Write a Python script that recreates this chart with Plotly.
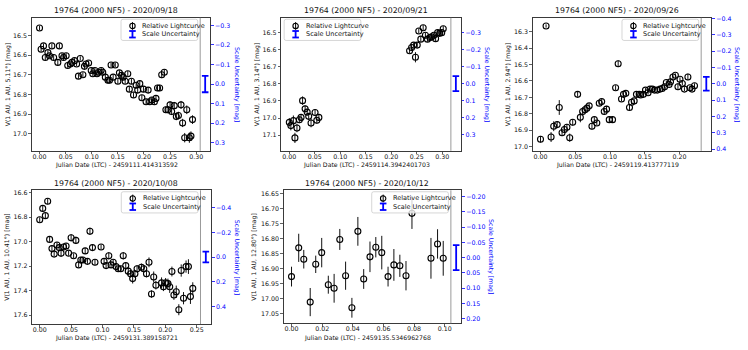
import plotly.graph_objects as go

W, H = 748, 350

# ---------------- data ----------------
p1_x = [0.000, 0.003, 0.0076, 0.011, 0.016, 0.019, 0.0236, 0.027, 0.035, 0.038,
        0.043, 0.046, 0.051, 0.054, 0.059, 0.062, 0.067, 0.071, 0.0745, 0.078,
        0.083, 0.086, 0.089, 0.094, 0.099, 0.102, 0.106, 0.110, 0.113, 0.118,
        0.121, 0.126, 0.131, 0.134, 0.137, 0.141, 0.145, 0.150, 0.153, 0.157,
        0.160, 0.164, 0.169, 0.172, 0.176, 0.180, 0.185, 0.188, 0.192, 0.196,
        0.199, 0.204, 0.208, 0.211, 0.215, 0.220, 0.223, 0.226, 0.230, 0.234,
        0.239, 0.242, 0.246, 0.250, 0.253, 0.258, 0.262, 0.266, 0.271, 0.274,
        0.278, 0.282, 0.287, 0.290, 0.293]
p1_y = [16.462, 16.570, 16.553, 16.612, 16.587, 16.603, 16.553, 16.612, 16.637, 16.553,
        16.603, 16.612, 16.603, 16.653, 16.645, 16.637, 16.628, 16.645, 16.707, 16.617,
        16.700, 16.657, 16.645, 16.640, 16.678, 16.695, 16.678, 16.695, 16.687, 16.678,
        16.687, 16.712, 16.728, 16.728, 16.650, 16.712, 16.650, 16.733, 16.690, 16.703,
        16.712, 16.733, 16.695, 16.773, 16.733, 16.803, 16.753, 16.778, 16.745, 16.817,
        16.773, 16.837, 16.778, 16.837, 16.828, 16.837, 16.820, 16.767, 16.767, 16.700,
        16.687, 16.878, 16.878, 16.853, 16.887, 16.857, 16.912, 16.907, 16.853, 16.945,
        17.020, 16.878, 17.020, 17.012, 16.928]
p1_err = [0.012, 0.013, 0.012, 0.013, 0.012, 0.012, 0.011, 0.013, 0.014, 0.012,
          0.013, 0.014, 0.013, 0.012, 0.012, 0.013, 0.012, 0.012, 0.013, 0.011,
          0.013, 0.013, 0.012, 0.012, 0.013, 0.013, 0.012, 0.014, 0.013, 0.013,
          0.013, 0.014, 0.013, 0.013, 0.012, 0.013, 0.012, 0.014, 0.013, 0.013,
          0.014, 0.013, 0.014, 0.014, 0.014, 0.014, 0.014, 0.015, 0.014, 0.015,
          0.015, 0.015, 0.015, 0.016, 0.015, 0.016, 0.016, 0.016, 0.016, 0.017,
          0.016, 0.017, 0.018, 0.018, 0.018, 0.019, 0.019, 0.019, 0.020, 0.021,
          0.024, 0.022, 0.026, 0.024, 0.022]

p2_x = [0.000, 0.003, 0.008, 0.011, 0.015, 0.0197, 0.023, 0.026, 0.031, 0.035,
        0.038, 0.0426, 0.0505, 0.054, 0.058,
        0.236, 0.240, 0.244, 0.2475, 0.251, 0.254, 0.258, 0.2626, 0.267, 0.271,
        0.276, 0.279, 0.2836, 0.287, 0.291, 0.295, 0.299, 0.302]
p2_y = [17.025, 17.044, 17.015, 17.116, 17.058, 17.010, 16.996, 16.898, 16.946, 16.965,
        16.990, 17.029, 16.967, 17.013, 16.996,
        16.606, 16.587, 16.573, 16.644, 16.573, 16.490, 16.538, 16.471, 16.515, 16.538,
        16.529, 16.525, 16.515, 16.535, 16.500, 16.504, 16.500, 16.477]
p2_err = [0.025, 0.028, 0.030, 0.030, 0.025, 0.020, 0.020, 0.025, 0.020, 0.020,
          0.020, 0.025, 0.020, 0.020, 0.020,
          0.015, 0.015, 0.015, 0.030, 0.015, 0.015, 0.015, 0.015, 0.015, 0.015,
          0.015, 0.015, 0.015, 0.015, 0.015, 0.015, 0.015, 0.015]

p3_x = [0.000, 0.008, 0.0152, 0.019, 0.024, 0.027, 0.031, 0.0344, 0.038, 0.042,
        0.0463, 0.0534, 0.0573, 0.0606, 0.064, 0.0668, 0.070, 0.074, 0.0774, 0.081,
        0.0845, 0.088, 0.0917, 0.095, 0.0989, 0.1036, 0.108, 0.1117, 0.1165, 0.1194,
        0.1227, 0.128, 0.131, 0.1347, 0.138, 0.142, 0.144, 0.148, 0.151, 0.1547,
        0.1576, 0.161, 0.164, 0.168, 0.172, 0.175, 0.1785, 0.181, 0.185, 0.187,
        0.1905, 0.194, 0.1977, 0.2006, 0.204, 0.207, 0.212, 0.215, 0.218, 0.2215]
p3_y = [16.955, 16.266, 16.942, 16.876, 16.866, 16.762, 16.916, 16.896, 16.882, 16.946,
        16.852, 16.682, 16.822, 16.786, 16.776, 16.766, 16.752, 16.876, 16.836, 16.856,
        16.736, 16.726, 16.786, 16.772, 16.836, 16.836, 16.642, 16.496, 16.710, 16.682,
        16.676, 16.762, 16.730, 16.722, 16.682, 16.682, 16.686, 16.682, 16.656, 16.672,
        16.650, 16.650, 16.656, 16.656, 16.650, 16.646, 16.636, 16.610, 16.622, 16.606,
        16.576, 16.566, 16.636, 16.590, 16.616, 16.650, 16.576, 16.642, 16.650, 16.630]
p3_err = [0.020, 0.010, 0.030, 0.030, 0.020, 0.045, 0.020, 0.020, 0.020, 0.025,
          0.020, 0.015, 0.030, 0.020, 0.015, 0.015, 0.015, 0.020, 0.015, 0.015,
          0.015, 0.015, 0.020, 0.020, 0.020, 0.020, 0.015, 0.020, 0.015, 0.012,
          0.012, 0.015, 0.012, 0.012, 0.012, 0.012, 0.012, 0.012, 0.012, 0.012,
          0.012, 0.012, 0.012, 0.012, 0.012, 0.012, 0.012, 0.012, 0.012, 0.012,
          0.012, 0.012, 0.020, 0.012, 0.012, 0.012, 0.020, 0.012, 0.012, 0.015]

p4_x = [0.000, 0.0048, 0.009, 0.0127, 0.0158, 0.0195, 0.023, 0.0275, 0.031, 0.034,
        0.038, 0.042, 0.046, 0.050, 0.054, 0.0576, 0.062, 0.0655, 0.0687, 0.0724,
        0.076, 0.080, 0.084, 0.088, 0.0977, 0.1025, 0.1057, 0.110, 0.1136, 0.117,
        0.1215, 0.125, 0.129, 0.133, 0.137, 0.141, 0.1447, 0.148, 0.1516, 0.155,
        0.162, 0.1657, 0.170, 0.174, 0.178, 0.1815, 0.185, 0.194, 0.197, 0.2005,
        0.2042, 0.207, 0.2105, 0.2137, 0.2174, 0.2215, 0.2253, 0.229, 0.233, 0.2368,
        0.240, 0.2437]
p4_y = [16.821, 16.728, 16.787, 16.669, 16.981, 17.056, 17.101, 17.027, 17.048, 17.093,
        17.043, 17.035, 17.093, 16.968, 17.115, 16.989, 17.189, 17.149, 17.149, 17.075,
        17.160, 16.915, 17.048, 17.168, 17.043, 17.160, 17.195, 17.115, 17.189, 17.168,
        17.203, 17.221, 17.221, 17.115, 17.195, 17.240, 17.261, 17.301, 17.261, 17.221,
        17.208, 17.221, 17.261, 17.168, 17.427, 17.288, 17.355, 17.336, 17.368, 17.336,
        17.341, 17.368, 17.243, 17.435, 17.408, 17.555, 17.235, 17.461, 17.203, 17.203,
        17.448, 17.381]
p4_err = [0.020, 0.025, 0.020, 0.025, 0.020, 0.025, 0.020, 0.025, 0.025, 0.030,
          0.025, 0.025, 0.020, 0.030, 0.020, 0.030, 0.020, 0.025, 0.025, 0.025,
          0.020, 0.030, 0.025, 0.025, 0.020, 0.025, 0.020, 0.030, 0.025, 0.025,
          0.025, 0.025, 0.025, 0.030, 0.025, 0.030, 0.030, 0.040, 0.030, 0.030,
          0.030, 0.030, 0.030, 0.040, 0.030, 0.045, 0.035, 0.045, 0.035, 0.040,
          0.040, 0.050, 0.040, 0.040, 0.050, 0.045, 0.050, 0.050, 0.050, 0.060,
          0.060, 0.050]

p5_x = [0.000, 0.0047, 0.008, 0.0122, 0.0158, 0.0197, 0.024, 0.0278, 0.0315, 0.0353,
        0.0394, 0.0433, 0.0471, 0.0512, 0.055, 0.0589, 0.063, 0.0668, 0.0707, 0.0747,
        0.0786, 0.091, 0.0953, 0.099]
p5_y = [16.927, 16.831, 16.869, 17.012, 16.886, 16.847, 16.954, 16.966, 16.803, 16.924,
        17.031, 16.776, 16.935, 16.861, 16.829, 16.847, 16.927, 16.888, 16.891, 16.924,
        16.716, 16.866, 16.818, 16.866]
p5_err = [0.033, 0.047, 0.031, 0.047, 0.029, 0.049, 0.030, 0.048, 0.035, 0.047,
          0.033, 0.048, 0.033, 0.051, 0.034, 0.056, 0.033, 0.053, 0.037, 0.049,
          0.052, 0.068, 0.049, 0.058]

scale_uncertainty = [0.042, 0.044, 0.042, 0.044, 0.041]

panel_titles = ["19764 (2000 NF5) - 2020/09/18", "19764 (2000 NF5) - 2020/09/21",
                "19764 (2000 NF5) - 2020/09/26", "19764 (2000 NF5) - 2020/10/08",
                "19764 (2000 NF5) - 2020/10/12"]
x_titles = ["Julian Date (LTC) - 2459111.414313592", "Julian Date (LTC) - 2459114.3942401703",
            "Julian Date (LTC) - 2459119.413777119", "Julian Date (LTC) - 2459131.389158721",
            "Julian Date (LTC) - 2459135.5346962768"]
y_titles = ["V(1 AU, 1 AU, 5.11°) [mag]", "V(1 AU, 1 AU, 3.14°) [mag]",
            "V(1 AU, 1 AU, 2.94°) [mag]", "V(1 AU, 1 AU, 10.41°) [mag]",
            "V(1 AU, 1 AU, 12.80°) [mag]"]
right_title = "Scale Uncertainty [mag]"
legend_labels = ["Relative Lightcurve", "Scale Uncertainty"]

series = [(p1_x, p1_y, p1_err), (p2_x, p2_y, p2_err), (p3_x, p3_y, p3_err),
          (p4_x, p4_y, p4_err), (p5_x, p5_y, p5_err)]

# ---------------- geometry (pixels) & axis setup ----------------
geom = [
    dict(x0=32.0, xv=201.0, x1=211.0, yt=15.0, yb=150.0, xr=[-0.0147, 0.3077], yr=[17.087, 16.41],
         rr=[0.342, -0.339], xdt=0.05, xfmt=".2f", ydt=0.1, yfmt=".1f", rdt=0.1, rfmt=".1f",
         leg="right", ylx=8.0, rlx=237.3),
    dict(x0=282.3, xv=452.7, x1=462.7, yt=15.0, yb=150.0, xr=[-0.016, 0.317], yr=[17.192, 16.413],
         rr=[0.394, -0.385], xdt=0.05, xfmt=".2f", ydt=0.1, yfmt=".1f", rdt=0.1, rfmt=".1f",
         leg="left", ylx=258.0, rlx=488.3),
    dict(x0=535.0, xv=704.0, x1=714.3, yt=15.0, yb=150.0, xr=[-0.011, 0.2311], yr=[17.026, 16.216],
         rr=[0.41, -0.404], xdt=0.05, xfmt=".2f", ydt=0.1, yfmt=".1f", rdt=0.1, rfmt=".1f",
         leg="right", ylx=510.0, rlx=739.3),
    dict(x0=32.3, xv=201.3, x1=212.0, yt=190.0, yb=325.7, xr=[-0.012, 0.256], yr=[17.672, 16.58],
         rr=[0.544, -0.542], xdt=0.05, xfmt=".2f", ydt=0.2, yfmt=".1f", rdt=0.2, rfmt=".1f",
         leg="right", ylx=6.7, rlx=237.3),
    dict(x0=285.0, xv=452.7, x1=463.3, yt=190.0, yb=325.0, xr=[-0.005, 0.104], yr=[17.083, 16.639],
         rr=[0.215, -0.2203], xdt=0.02, xfmt=".2f", ydt=0.05, yfmt=".2f", rdt=0.05, rfmt=".2f",
         leg="right", ylx=255.0, rlx=492.7),
]

FONT = "DejaVu Sans"
FRAME = "#3a3a3a"
TXT = "#111111"
BLUE = "#0000ff"
TICK_SIZE = 6.3
LABEL_SIZE = 6.2
LEGEND_SIZE = 6.5
TITLE_SIZE = 7.8


def fx(px):
    return px / W


def fy(py):
    return 1 - py / H


def rounded_rect(x0, y0, x1, y1, r):
    p = [f"M {fx(x0 + r)},{fy(y0)}",
         f"L {fx(x1 - r)},{fy(y0)}",
         f"Q {fx(x1)},{fy(y0)} {fx(x1)},{fy(y0 + r)}",
         f"L {fx(x1)},{fy(y1 - r)}",
         f"Q {fx(x1)},{fy(y1)} {fx(x1 - r)},{fy(y1)}",
         f"L {fx(x0 + r)},{fy(y1)}",
         f"Q {fx(x0)},{fy(y1)} {fx(x0)},{fy(y1 - r)}",
         f"L {fx(x0)},{fy(y0 + r)}",
         f"Q {fx(x0)},{fy(y0)} {fx(x0 + r)},{fy(y0)}",
         "Z"]
    return " ".join(p)


fig = go.Figure()
layout = {}
shapes = []
annotations = []

for k, (g, (xs, ys, es), su) in enumerate(zip(geom, series, scale_uncertainty)):
    a, b = 2 * k + 1, 2 * k + 2
    ydom = [fy(g["yb"]), fy(g["yt"])]
    tickfont = dict(family=FONT, size=TICK_SIZE, color=TXT)
    layout[f"xaxis{a}"] = dict(domain=[fx(g["x0"]), fx(g["xv"])], range=g["xr"], anchor=f"y{a}",
                               tick0=0, dtick=g["xdt"], tickformat=g["xfmt"], ticks="outside",
                               ticklen=2.5, tickwidth=0.8, tickcolor=FRAME, showline=True,
                               linecolor=FRAME, linewidth=1, mirror=True, showgrid=False,
                               zeroline=False, tickfont=tickfont, ticklabelstandoff=-3)
    layout[f"yaxis{a}"] = dict(domain=ydom, range=g["yr"], anchor=f"x{a}", tick0=0, dtick=g["ydt"],
                               tickformat=g["yfmt"], ticks="outside", ticklen=2.5, tickwidth=0.8,
                               tickcolor=FRAME, showline=True, linecolor=FRAME, linewidth=1,
                               mirror=False, showgrid=False, zeroline=False, tickfont=tickfont)
    layout[f"xaxis{b}"] = dict(domain=[fx(g["xv"]), fx(g["x1"])], range=[-1, 1], anchor=f"y{b}",
                               showticklabels=False, ticks="", showline=True, linecolor=FRAME,
                               linewidth=1, mirror=True, showgrid=False, zeroline=False)
    layout[f"yaxis{b}"] = dict(domain=ydom, range=g["rr"], anchor=f"x{b}", side="right", tick0=0,
                               dtick=g["rdt"], tickformat=g["rfmt"], ticks="outside", ticklen=2.5,
                               tickwidth=0.8, tickcolor=BLUE, showline=True, linecolor=FRAME,
                               linewidth=1, mirror=False, showgrid=False, zeroline=False,
                               tickfont=dict(family=FONT, size=TICK_SIZE, color=BLUE))

    fig.add_trace(go.Scatter(
        x=xs, y=ys, mode="markers", xaxis=f"x{a}", yaxis=f"y{a}", showlegend=False,
        marker=dict(symbol="circle-open", size=6, color="black", line=dict(width=1.1)),
        error_y=dict(type="data", array=es, visible=True, color="#111111", thickness=1.0, width=0),
        cliponaxis=False))
    fig.add_trace(go.Scatter(
        x=[0], y=[0], mode="markers", xaxis=f"x{b}", yaxis=f"y{b}", showlegend=False,
        marker=dict(size=0.1, color="rgba(0,0,0,0)"),
        error_y=dict(type="data", array=[su], visible=True, color=BLUE, thickness=1.8, width=3.3)))

    shapes.append(dict(type="line", xref="paper", yref="paper", x0=fx(g["xv"]), x1=fx(g["xv"]),
                       y0=fy(g["yb"]), y1=fy(g["yt"]), line=dict(color="#9a9a9a", width=1)))

    LW, LH = 77.0, 21.5
    lx0 = g["xv"] - 2.5 - LW if g["leg"] == "right" else g["x0"] + 3.0
    ly0 = g["yt"] + 1.5
    shapes.append(dict(type="path", xref="paper", yref="paper",
                       path=rounded_rect(lx0, ly0, lx0 + LW, ly0 + LH, 2.0),
                       fillcolor="rgba(255,255,255,0.8)", line=dict(color="#cccccc", width=0.8)))
    gx = lx0 + 11.5
    r1 = ly0 + 6.8
    r2 = ly0 + 15.2
    shapes.append(dict(type="circle", xref="paper", yref="paper", x0=fx(gx - 2.7), x1=fx(gx + 2.7),
                       y0=fy(r1 + 2.7), y1=fy(r1 - 2.7), line=dict(color="black", width=1.1)))
    shapes.append(dict(type="line", xref="paper", yref="paper", x0=fx(gx), x1=fx(gx),
                       y0=fy(r1 + 3.9), y1=fy(r1 - 3.9), line=dict(color="black", width=1.0)))
    shapes.append(dict(type="line", xref="paper", yref="paper", x0=fx(gx), x1=fx(gx),
                       y0=fy(r2 + 3.3), y1=fy(r2 - 3.3), line=dict(color=BLUE, width=1.8)))
    for dy in (-3.3, 3.3):
        shapes.append(dict(type="line", xref="paper", yref="paper", x0=fx(gx - 3.3), x1=fx(gx + 3.3),
                           y0=fy(r2 + dy), y1=fy(r2 + dy), line=dict(color=BLUE, width=1.8)))
    for lab, ry in zip(legend_labels, (r1, r2)):
        annotations.append(dict(text=lab, xref="paper", yref="paper", x=fx(lx0 + 19.5), y=fy(ry),
                                xanchor="left", yanchor="middle", showarrow=False,
                                font=dict(family=FONT, size=LEGEND_SIZE, color=TXT)))

    cx = (g["x0"] + g["xv"]) / 2
    cy = (g["yt"] + g["yb"]) / 2
    annotations.append(dict(text=panel_titles[k], xref="paper", yref="paper", x=fx(cx),
                            y=fy(g["yt"] - 7.3), xanchor="center", yanchor="middle", showarrow=False,
                            font=dict(family=FONT, size=TITLE_SIZE, color=TXT)))
    annotations.append(dict(text=x_titles[k], xref="paper", yref="paper", x=fx(cx),
                            y=fy(g["yb"] + 14.5), xanchor="center", yanchor="middle", showarrow=False,
                            font=dict(family=FONT, size=LABEL_SIZE, color=TXT)))
    annotations.append(dict(text=y_titles[k], xref="paper", yref="paper", x=fx(g["ylx"]),
                            y=fy(cy), xanchor="center", yanchor="middle", textangle=-90,
                            showarrow=False, font=dict(family=FONT, size=LABEL_SIZE, color=TXT)))
    annotations.append(dict(text=right_title, xref="paper", yref="paper", x=fx(g["rlx"]),
                            y=fy(cy), xanchor="center", yanchor="middle", textangle=90,
                            showarrow=False, font=dict(family=FONT, size=LABEL_SIZE, color=BLUE)))

fig.update_layout(
    width=W, height=H, autosize=False,
    margin=dict(l=0, r=0, t=0, b=0, pad=0),
    paper_bgcolor="white", plot_bgcolor="white",
    font=dict(family=FONT, size=TICK_SIZE, color=TXT),
    showlegend=False,
    shapes=shapes, annotations=annotations,
    **layout,
)

fig.write_html("out.html",
               config={"displayModeBar": False, "staticPlot": True},
               post_script="document.body.style.margin='0px';document.body.style.padding='0px';")
